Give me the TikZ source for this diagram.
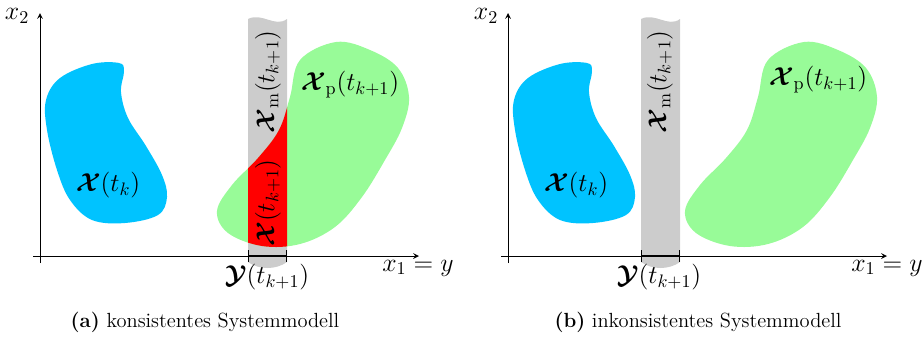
\RequirePackage{fix-cm}
\documentclass[tikz,border=0pt]{standalone}
\usepackage{amsmath,amssymb,bm}
\usetikzlibrary{arrows,arrows.meta,calc}

\definecolor{setblue}{RGB}{0,195,255}
\definecolor{setgreen}{RGB}{152,251,152}
\definecolor{stripgray}{RGB}{204,204,204}

% set outlines (left panel, pixel units)
\newcommand{\blueblob}{plot[smooth cycle, tension=0.6] coordinates {(92,64) (119,63) (124,71) (121,92) (128,118) (146,146) (162,175) (167,197) (158,215) (125,223) (92,220) (70,200) (57,170) (47,130) (46,100) (60,78)}}
\newcommand{\greenblob}{plot[smooth cycle, tension=0.6] coordinates {(336,42) (370,50) (398,68) (409,97) (402,128) (385,160) (362,197) (335,227) (300,244) (262,246) (228,233) (217,211) (232,185) (258,158) (279,130) (290,97) (300,60)}}
\newcommand{\strippath}[1]{(#1,19) .. controls ($(#1,19)+(14,-7)$) and ($(#1,19)+(27,9)$) .. ($(#1,19)+(39,0)$) -- ($(#1,262)+(39,0)$) .. controls ($(#1,262)+(28,8)$) and ($(#1,262)+(11,8)$) .. (#1,262) -- cycle}

\begin{document}
\begin{tikzpicture}[
    x=0.62pt, y=-0.62pt,
    axis/.style={->, >=stealth, line width=0.6pt},
    meas/.style={{Bar[width=7pt,line width=0.9pt]}-{Bar[width=7pt,line width=0.9pt]}, line width=1.8pt},
    lbl/.style={font=\fontsize{16}{19}\selectfont, inner sep=1pt},
    subcap/.style={font=\fontsize{12.7}{15}\selectfont}
]
    \useasboundingbox (0,0) rectangle (923,337);

    % (a) consistent model
    \fill[setblue] \blueblob;
    \fill[stripgray] \strippath{248};
    \fill[setgreen] \greenblob;
    \begin{scope}
        \clip (248,0) rectangle (287,300);
        \fill[red] \greenblob;
    \end{scope}

    \coordinate (oa) at (40,256);
    \coordinate (xa) at (419,256);
    \coordinate (ya) at (40,13);
    \draw[axis] ($(oa)+(-7,0)$) -- (xa);
    \draw[axis] ($(oa)+(0,7)$) -- (ya);
    \coordinate (ya1) at (248,256);
    \coordinate (ya2) at (287,256);
    \draw[meas] (ya1) -- (ya2);

    \node[lbl] (x2a) at (17,16) {$x_2$};
    \node[lbl] (x1a) at (418,268) {$x_1 = y$};
    \node[lbl] (Xka) at (108,185) {$\boldsymbol{\mathcal{X}}(t_k)$};
    \node[lbl] (Xpa) at (350,85) {$\boldsymbol{\mathcal{X}}_\mathrm{p}(t_{k+1})$};
    \node[lbl, rotate=90] (Xma) at (268,82) {$\boldsymbol{\mathcal{X}}_\mathrm{m}(t_{k+1})$};
    \node[lbl, rotate=90] (Xa) at (268,203) {$\boldsymbol{\mathcal{X}}(t_{k+1})$};
    \node[lbl] (Ya) at (267,277) {$\boldsymbol{\mathcal{Y}}(t_{k+1})$};
    \node[subcap] (capa) at (205,322) {\textbf{(a)} konsistentes Systemmodell};

    % (b) inconsistent model
    \begin{scope}[xshift=468*0.62pt]
        \fill[setblue] \blueblob;
        \fill[setgreen] \greenblob;
    \end{scope}
    \fill[stripgray] \strippath{641};

    \coordinate (ob) at (508,256);
    \coordinate (xb) at (887,256);
    \coordinate (yb) at (508,13);
    \draw[axis] ($(ob)+(-7,0)$) -- (xb);
    \draw[axis] ($(ob)+(0,7)$) -- (yb);
    \coordinate (yb1) at (641,256);
    \coordinate (yb2) at (680,256);
    \draw[meas] (yb1) -- (yb2);

    \node[lbl] (x2b) at (486,16) {$x_2$};
    \node[lbl] (x1b) at (887,268) {$x_1 = y$};
    \node[lbl] (Xkb) at (576,185) {$\boldsymbol{\mathcal{X}}(t_k)$};
    \node[lbl] (Xpb) at (818,80) {$\boldsymbol{\mathcal{X}}_\mathrm{p}(t_{k+1})$};
    \node[lbl, rotate=90] (Xmb) at (660,82) {$\boldsymbol{\mathcal{X}}_\mathrm{m}(t_{k+1})$};
    \node[lbl] (Yb) at (659,277) {$\boldsymbol{\mathcal{Y}}(t_{k+1})$};
    \node[subcap] (capb) at (698,322) {\textbf{(b)} inkonsistentes Systemmodell};
\end{tikzpicture}
\end{document}
